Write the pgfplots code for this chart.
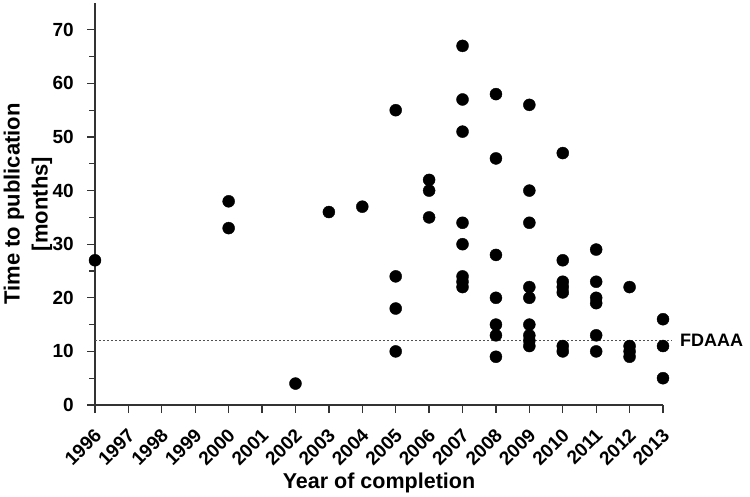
\documentclass[border=0pt]{standalone}
\usepackage{fontspec}
\setmainfont{Liberation Sans}
\usepackage{pgfplots}
\pgfplotsset{compat=1.18}
\definecolor{axgray}{HTML}{333333}
\definecolor{dotgray}{HTML}{505050}
\pgfplotstableread{
x y
1996 27
2000 38
2000 33
2002 4
2003 36
2004 37
2005 55
2005 24
2005 18
2005 10
2006 42
2006 40
2006 35
2007 67
2007 57
2007 51
2007 34
2007 30
2007 24
2007 23
2007 22
2008 58
2008 46
2008 28
2008 20
2008 15
2008 13
2008 9
2009 56
2009 40
2009 34
2009 22
2009 20
2009 15
2009 13
2009 12
2009 11
2010 47
2010 27
2010 23
2010 22
2010 21
2010 11
2010 10
2011 29
2011 23
2011 20
2011 19
2011 13
2011 10
2012 22
2012 11
2012 10
2012 9
2013 16
2013 11
2013 5
}\pubdata
\begin{document}
\begin{tikzpicture}
\useasboundingbox (-95bp,-92bp) rectangle (655bp,405bp);
\begin{axis}[
  at={(0,0)}, anchor=south west,
  scale only axis, width=568bp, height=402bp,
  xmin=1996, xmax=2013, ymin=0, ymax=75,
  clip=false,
  axis x line*=bottom, axis y line*=left,
  axis line style={-, draw=axgray, line width=1.3bp},
  xtick={1996,1997,1998,1999,2000,2001,2002,2003,2004,2005,2006,2007,2008,2009,2010,2011,2012,2013},
  xticklabels={1996,1997,1998,1999,2000,2001,2002,2003,2004,2005,2006,2007,2008,2009,2010,2011,2012,2013},
  ytick={0,10,20,30,40,50,60,70},
  yticklabels={0,10,20,30,40,50,60,70},
  minor ytick={5,15,25,35,45,55,65},
  tick align=outside,
  major tick length=8bp, minor tick length=6bp,
  every tick/.style={draw=axgray, line width=1.3bp},
  yticklabel style={font=\fontsize{19bp}{21bp}\selectfont\bfseries, anchor=east, inner sep=0pt, xshift=-13bp},
  xticklabel style={font=\fontsize{19bp}{21bp}\selectfont\bfseries, inner sep=0pt, rotate=45, anchor=east, xshift=-11.3bp, yshift=-15.6bp},
  xlabel={Year of completion},
  xlabel style={font=\fontsize{21.5bp}{26bp}\selectfont\bfseries, at={(axis description cs:0.5,-0.2065)}, anchor=base, inner sep=0pt},
  ylabel={Time to publication\\{[months]}},
  ylabel style={font=\fontsize{22bp}{28bp}\selectfont\bfseries, align=center, at={(axis description cs:-0.118,0.5)}, anchor=center, inner sep=0pt},
]
\addplot[only marks, mark=*, mark size=6bp, black] table[x=x, y=y] {\pubdata};
\addplot[dotgray, line width=1.6bp, dash pattern=on 2.2bp off 1.8bp] coordinates {(1996,12) (2013.27,12)};
\node[anchor=west, inner sep=0pt, xshift=8bp, font=\fontsize{18bp}{20bp}\selectfont\bfseries] at (axis cs:2013.27,12) {FDAAA};
\end{axis}
\end{tikzpicture}
\end{document}
